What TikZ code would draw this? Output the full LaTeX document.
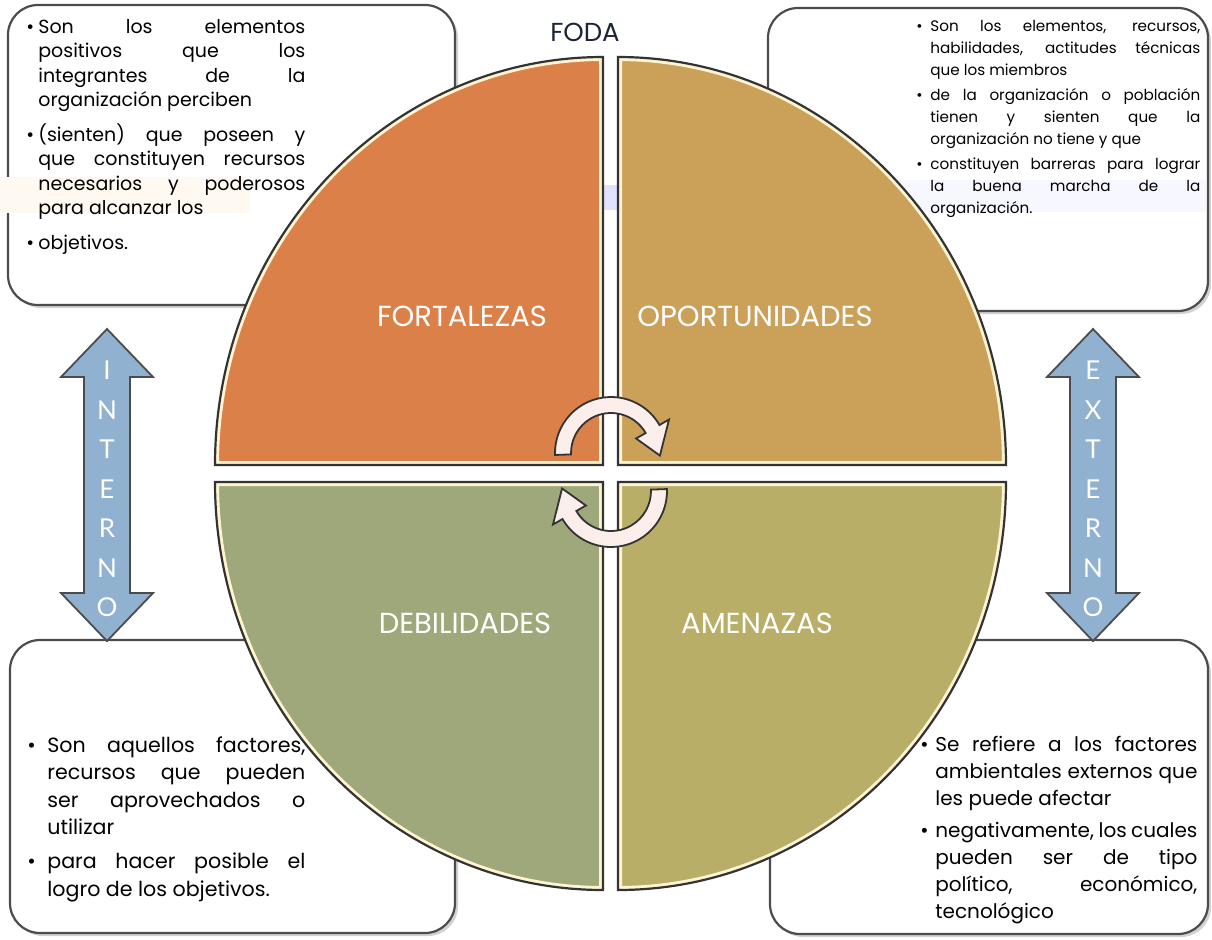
\documentclass[tikz,border=0pt]{standalone}
\usepackage{fontspec}
\setmainfont{Poppins}
\newfontfamily\arrowfont{Lato}
\usetikzlibrary{shadows}

\definecolor{fortcol}{RGB}{219,128,72}
\definecolor{oporcol}{RGB}{203,161,90}
\definecolor{debicol}{RGB}{158,168,122}
\definecolor{amencol}{RGB}{184,174,104}
\definecolor{bevelcol}{RGB}{255,244,210}
\definecolor{arrowcol}{RGB}{145,177,208}
\definecolor{cyccol}{RGB}{252,238,234}
\definecolor{titlecol}{RGB}{30,36,56}

\hyphenpenalty=10000
\exhyphenpenalty=10000
\tolerance=10000
\hbadness=10000

\newcommand{\bul}[2][6pt]{\noindent\hangindent=#1\hangafter=1\makebox[#1][l]{\textbullet}#2\par}

% one quarter of the circle: corner x, corner y, start, end, colour
\newcommand{\quadrant}[5]{%
  \def\qpath{(#1,#2) -- ++(#3:388 and 408) arc[start angle=#3,end angle=#4,x radius=388,y radius=408] -- cycle}
  \begin{scope}
    \clip \qpath;
    \fill[#5] \qpath;
    \draw[bevel] \qpath;
  \end{scope}
  \draw[qedge] \qpath;
}

% vertical double arrow at x
\newcommand{\updown}[1]{%
  \draw[bigarrow] (#1,-329) -- ++(46,-48) -- ++(-23,0) -- ++(0,-216) -- ++(23,0)
    -- ++(-46,-48) -- ++(-46,48) -- ++(23,0) -- ++(0,216) -- ++(-23,0) -- cycle;
}

% curved arrow in the middle: centre, rotation
\newcommand{\turnarrow}[2]{%
  \begin{scope}[shift={#1},rotate=#2]
    \draw[cycarrow] (182:56) arc[start angle=182,end angle=30,radius=56] -- (30:67) -- (-3:49)
      -- (30:29) -- (30:40) arc[start angle=30,end angle=182,radius=40] -- cycle;
  \end{scope}
}

\tikzset{
  infobox/.style={
    draw=black!70,
    line width=1.1pt,
    fill=white,
    rounded corners=15pt,
    drop shadow={shadow xshift=1.5pt,shadow yshift=-1.5pt,opacity=0.35}
  },
  bevel/.style={draw=bevelcol,line width=4pt},
  qedge/.style={draw=black!80,line width=1.1pt},
  qlabel/.style={text=white,font=\fontsize{14.5}{16}\selectfont},
  bigarrow/.style={draw=black!70,line width=0.9pt,fill=arrowcol},
  arrowtext/.style={text=white,align=center,font=\arrowfont\fontsize{13}{19.75}\selectfont},
  cycarrow/.style={draw=black!80,line width=0.9pt,fill=cyccol},
  txt/.style={anchor=north west,inner sep=0pt,align=justify},
  tltxt/.style={txt,text width=139.5pt,font=\fontsize{9.5}{12.25}\selectfont\setlength{\parskip}{5pt}},
  trtxt/.style={txt,text width=142pt,font=\fontsize{7.6}{11}\selectfont\setlength{\parskip}{1.5pt}},
  bltxt/.style={txt,text width=139pt,font=\fontsize{10.3}{13.75}\selectfont\setlength{\parskip}{3.25pt}},
  brtxt/.style={txt,text width=138.5pt,font=\fontsize{10}{13.5}\selectfont\setlength{\parskip}{2.5pt}}
}

\begin{document}
\begin{tikzpicture}[x=0.5pt,y=0.5pt]
  \useasboundingbox[fill=white] (0,0) rectangle (1212,-939);

  % text boxes
  \draw[infobox] (8,-5) rectangle (455,-305);
  \draw[infobox] (768,-8) rectangle (1208,-311);
  \draw[infobox] (10,-640) rectangle (455,-933);
  \draw[infobox] (770,-640) rectangle (1208,-934);

  % faint traces behind
  \fill[orange!5] (0,-177) rectangle (250,-213);
  \fill[blue!3] (860,-180) rectangle (1206,-212);
  \fill[blue!12] (603,-185) rectangle (618,-210);

  \node[tltxt] (tltext) at (26,-19) {%
    \bul{Son los elementos\linebreak positivos que los\linebreak integrantes de la\linebreak organización perciben}
    \bul{(sienten) que poseen y\linebreak que constituyen recursos\linebreak necesarios y poderosos\linebreak para alcanzar los}
    \bul{objetivos.}};
  \node[trtxt] (trtext) at (916,-20) {%
    \bul[7pt]{Son los elementos, recursos,\linebreak habilidades, actitudes técnicas\linebreak que los miembros}
    \bul[7pt]{de la organización o población\linebreak tienen y sienten que la\linebreak organización no tiene y que}
    \bul[7pt]{constituyen barreras para lograr\linebreak la buena marcha de la\linebreak organización.}};
  \node[bltxt] (bltext) at (27,-736) {%
    \bul[10pt]{Son aquellos factores,\linebreak recursos que pueden\linebreak ser aprovechados o\linebreak utilizar}
    \bul[10pt]{para hacer posible el\linebreak logro de los objetivos.}};
  \node[brtxt] (brtext) at (920,-736) {%
    \bul[7.5pt]{Se refiere a los factores\linebreak ambientales externos que\linebreak les puede afectar}
    \bul[7.5pt]{negativamente, los cuales\linebreak pueden ser de tipo\linebreak político, económico,\linebreak tecnológico}};

  % side arrows
  \updown{107}
  \updown{1093}
  \node[arrowtext] (interno) at (107,-489) {I\\N\\T\\E\\R\\N\\O};
  \node[arrowtext] (externo) at (1093,-489) {E\\X\\T\\E\\R\\N\\O};

  % the circle
  \quadrant{603}{-465}{180}{90}{fortcol}
  \quadrant{618}{-465}{90}{0}{oporcol}
  \quadrant{603}{-482}{180}{270}{debicol}
  \quadrant{618}{-482}{0}{-90}{amencol}

  \node[qlabel] (fort) at (462,-316) {FORTALEZAS};
  \node[qlabel] (opor) at (755,-316) {OPORTUNIDADES};
  \node[qlabel] (debi) at (465,-623) {DEBILIDADES};
  \node[qlabel] (amen) at (757,-623) {AMENAZAS};

  \turnarrow{(611,-453)}{0}
  \turnarrow{(611,-491)}{180}

  \node[font=\fontsize{13}{15}\selectfont,text=titlecol] (title) at (585,-32) {FODA};
\end{tikzpicture}
\end{document}
